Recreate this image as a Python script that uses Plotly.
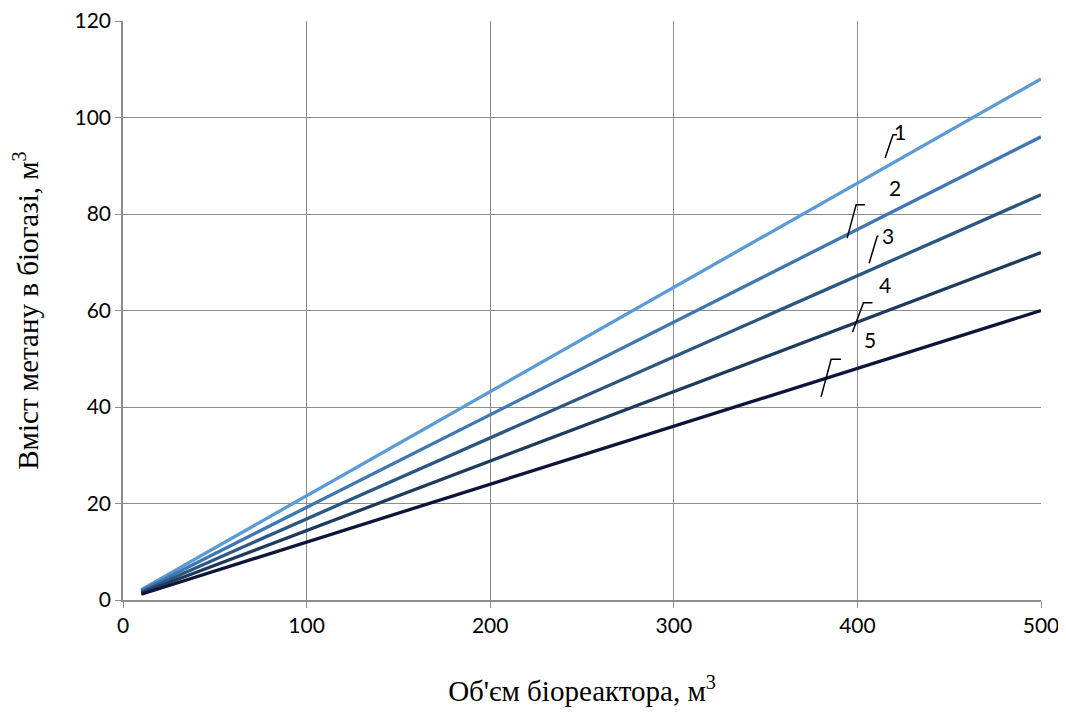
import plotly.graph_objects as go

volume = [10, 50, 100, 150, 200, 250, 300, 350, 400, 450, 500]
series_names = ["1", "2", "3", "4", "5"]
rates = [0.216, 0.192, 0.168, 0.144, 0.12]
colors = ["#5B9BD5", "#3F77B2", "#2C5782", "#1F3A5B", "#0D1638"]
methane = [[round(v * r, 3) for v in volume] for r in rates]

label_pos = [(423, 97.0), (420.5, 85.4), (416.7, 75.6), (415.1, 65.3), (406.9, 53.9)]
leaders = [
    [(415.1, 91.6), (419.4, 96.4), (421.6, 96.4)],
    [(394.4, 75.0), (399.3, 81.9), (404.2, 81.9)],
    [(406.4, 69.8), (410.8, 75.4), (411.5, 75.4)],
    [(397.3, 55.5), (403.3, 61.6), (408.2, 61.6)],
    [(380.2, 42.1), (385.7, 49.9), (391.1, 49.9)],
]

fig = go.Figure()
for name, ys, c in zip(series_names, methane, colors):
    fig.add_trace(go.Scatter(x=volume, y=ys, mode="lines", name=name,
                             line=dict(color=c, width=3.3), showlegend=False,
                             cliponaxis=False))

for name, (lx, ly) in zip(series_names, label_pos):
    fig.add_annotation(x=lx, y=ly, text=name, showarrow=False,
                       font=dict(family="Lato, Liberation Sans", size=21, color="black"))
for pts in leaders:
    path = "M " + " L ".join(f"{x},{y}" for x, y in pts)
    fig.add_shape(type="path", path=path, xref="x", yref="y",
                  line=dict(color="black", width=1.5))

axis_common = dict(showgrid=True, gridcolor="#8C8C8C", gridwidth=1,
                   showline=True, linecolor="#8C8C8C", linewidth=1.5,
                   ticks="outside", ticklen=6, tickcolor="#8C8C8C",
                   tickfont=dict(family="Lato, Liberation Sans", size=21, color="black"),
                   ticklabeloverflow="allow",
                   zeroline=False)

fig.update_xaxes(range=[0, 500], dtick=100, tick0=0,
                 title=dict(text="Об'єм біореактора, м<sup>3</sup>",
                            font=dict(family="Liberation Serif", size=29, color="black"),
                            standoff=46),
                 **axis_common)
fig.update_yaxes(range=[0, 120], dtick=20, tick0=0,
                 title=dict(text="Вміст метану в біогазі, м<sup>3</sup>",
                            font=dict(family="Liberation Serif", size=29, color="black"),
                            standoff=30),
                 **axis_common)

fig.update_layout(width=1050, height=699, plot_bgcolor="white", paper_bgcolor="white",
                  margin=dict(l=115, r=17, t=13, b=107, autoexpand=False))

fig.write_html("out.html")
